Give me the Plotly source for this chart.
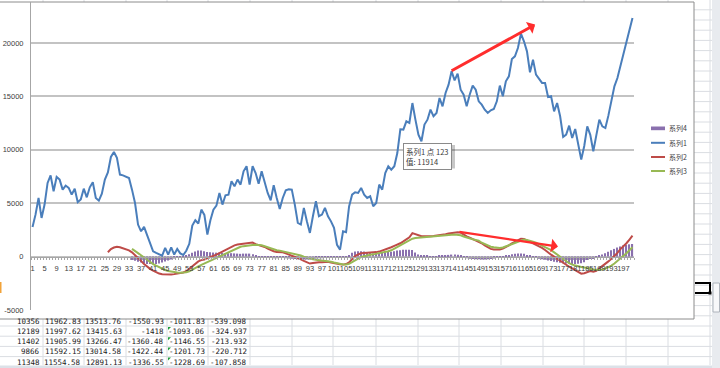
import plotly.graph_objects as go

# ---------------- data ----------------
categories = list(range(1, 201))
series1 = [
    2780, 3930, 5490, 3620, 4870, 6900, 7610, 6120, 7460, 7210,
    6270, 6650, 6430, 5800, 6360, 5090, 5340, 6360, 5550, 6490,
    6960, 5490, 5240, 5900, 7210, 7890, 9330, 9800, 9240, 7680,
    7610, 7520, 7360, 6270, 5020, 3000, 2370, 2780, 2060, 1340,
    500, 340, 190, 90, 810, 190, 870, 190, 720, 300,
    150, 550, 1200, 2900, 3400, 3100, 4400, 3900, 2060, 3400,
    4400, 4770, 5960, 4870, 5740, 5800, 7050, 6580, 7210, 6740,
    7990, 8460, 6740, 8460, 7830, 6830, 7990, 6900, 5960, 5270,
    6680, 5490, 4460, 5490, 6210, 6300, 6270, 4870, 3150, 3000,
    4560, 3310, 2220, 3780, 5180, 3780, 3930, 4560, 3780, 3300,
    2700, 1100, 650, 2370, 2280, 4700, 5800, 6020, 5960, 6430,
    5800, 5490, 5650, 4710, 5020, 6740, 6270, 7830, 8460, 8140,
    8460, 9700, 11914, 11890, 12670, 12510, 14380, 12820, 11420, 10800,
    12360, 12820, 13760, 13140, 13450, 14850, 14070, 15320, 16100, 17350,
    16500, 17130, 15630, 15160, 14070, 15160, 16010, 15630, 14540, 14230,
    13760, 13450, 13700, 13820, 14540, 16010, 15010, 16410, 16880, 18500,
    18750, 19530, 20870, 20160, 19220, 17250, 18440, 17040, 16630, 16260,
    16260, 14940, 15010, 13600, 14380, 13140, 11200, 11420, 12260, 11110,
    11950, 10330, 9080, 10356, 12189, 11402, 9866, 11348, 12820, 12200,
    12040, 13200, 14540, 15940, 16720, 17820, 19060, 20160, 21090, 22340,
]
series2_categories = list(range(26, 201))
series2 = [
    405, 700, 850, 930, 870, 760, 690, 590, 400, 150,
    -150, -400, -700, -950, -1150, -1320, -1480, -1590, -1660, -1690,
    -1700, -1680, -1640, -1600, -1550, -1480, -1370, -1150, -900, -650,
    -450, -330, -280, -150, -50, 50, 180, 330, 480, 620,
    800, 950, 1050, 1130, 1170, 1250, 1290, 1340, 1320, 1170,
    1100, 1040, 900, 750, 600, 500, 420, 400, 400, 300,
    200, 100, -20, -130, -250, -400, -550, -650, -600, -530,
    -520, -530, -500, -480, -560, -630, -680, -720, -750, -700,
    -550, -200, 50, 200, 320, 340, 350, 350, 380, 420,
    470, 560, 700, 800, 880, 1000, 1100, 1250, 1420, 1600,
    1800, 2200, 2100, 1950, 1900, 1900, 1880, 1900, 1920, 1950,
    1980, 2050, 2100, 2170, 2230, 2280, 2280, 2250, 2050, 1900,
    1780, 1650, 1550, 1420, 1250, 1050, 880, 720, 660, 650,
    660, 750, 880, 1050, 1250, 1400, 1550, 1680, 1660, 1530,
    1380, 1250, 1120, 960, 820, 620, 380, 180, 0, -200,
    -400, -600, -780, -950, -1100, -1280, -1450, -1600, -1551, -1418,
    -1360, -1422, -1337, -1100, -900, -700, -450, -200, 50, 350,
    700, 950, 1250, 1600, 1965,
]
series3_categories = list(range(34, 201))
series3 = [
    720, 550, 330, 120, -100, -300, -500, -700, -850, -1000,
    -1130, -1250, -1350, -1420, -1460, -1490, -1510, -1500, -1470, -1380,
    -1250, -1100, -920, -780, -650, -520, -400, -280, -150, 20,
    150, 300, 420, 560, 700, 820, 920, 980, 1030, 1060,
    1090, 1100, 1090, 1060, 970, 870, 760, 680, 600, 560,
    500, 440, 400, 350, 280, 190, 100, 0, -100, -180,
    -240, -300, -340, -350, -350, -400, -480, -550, -620, -690,
    -740, -740, -680, -520, -330, -180, -40, 50, 120, 170,
    210, 260, 300, 350, 420, 500, 590, 750, 900, 1080,
    1200, 1380, 1550, 1680, 1750, 1780, 1800, 1830, 1860, 1880,
    1900, 1920, 1940, 1960, 1980, 2010, 2040, 2060, 2060, 2000,
    1880, 1780, 1680, 1620, 1560, 1500, 1300, 1150, 1020, 930,
    870, 830, 810, 850, 950, 1050, 1200, 1300, 1420, 1520,
    1590, 1560, 1500, 1400, 1300, 1180, 1050, 900, 750, 600,
    400, 190, -50, -250, -450, -620, -750, -850, -930, -980,
    -1012, -1093, -1147, -1202, -1229, -1240, -1200, -1120, -1000, -850,
    -650, -420, -180, 60, 320, 600, 880,
]
series4_categories = list(range(34, 201))
series4 = [
    -320, -400, -480, -550, -620, -700, -700, -700, -700, -650,
    -560, -460, -360, -260, -180, -110, -40, 20, 100, 230,
    350, 480, 560, 560, 500, 430, 400, 380, 370, 370,
    350, 300, 320, 320, 300, 280, 260, 280, 280, 280,
    230, 70, 10, -40, -90, -120, -140, -150, -150, -130,
    -100, -150, -180, -200, -220, -250, -260, -280, -280, -260,
    -220, -180, -160, -150, -120, -80, -80, -80, -60, -30,
    -10, 40, 150, 350, 480, 500, 500, 480, 420, 380,
    300, 300, 320, 350, 400, 420, 450, 500, 560, 600,
    640, 650, 650, 620, 380, 200, 120, 80, 60, 50,
    40, 50, 60, 90, 130, 160, 190, 200, 180, 100,
    -60, -150, -200, -220, -240, -250, -260, -260, -250, -220,
    -180, -120, -60, 20, 100, 160, 220, 270, 300, 300,
    260, 150, 60, -40, -120, -200, -250, -300, -360, -420,
    -480, -530, -580, -620, -650, -680, -700, -700, -680, -620,
    -539, -325, -214, -221, -108, 60, 200, 320, 450, 600,
    720, 850, 950, 1050, 1100, 1150, 1180,
]
assert len(series1) == len(categories)
assert len(series2) == len(series2_categories)
assert len(series3) == len(series3_categories)
assert len(series4) == len(series4_categories)

x_tickvals = list(range(1, 200, 4))
x_ticktext = [str(v) for v in x_tickvals]
y_tickvals = [-5000, 0, 5000, 10000, 15000, 20000]
y_ticktext = ["-5000", "0", "5000", "10000", "15000", "20000"]
y_range = [-5000, 23840]
series_names = {"s1": "系列1", "s2": "系列2", "s3": "系列3", "s4": "系列4"}
tooltip_lines = ["系列1 点 123", "值: 11914"]
table_rows = [
    ["10356", "11962.83", "13513.76", "-1550.93", "-1011.83", "-539.098"],
    ["12189", "11997.62", "13415.63", "-1418", "-1093.06", "-324.937"],
    ["11402", "11905.99", "13266.47", "-1360.48", "-1146.55", "-213.932"],
    ["9866", "11592.15", "13014.58", "-1422.44", "-1201.73", "-220.712"],
    ["11348", "11554.58", "12891.13", "-1336.55", "-1228.69", "-107.858"],
]

# ---------------- style / geometry ----------------
W, H = 720, 368
L, R, T, B = 31, 634, 2, 310

def fx(x):
    return (x - L) / (R - L)

def fy(y):
    return (B - y) / (B - T)

C_BLUE, C_RED, C_GREEN, C_PURPLE = "#4A7EBB", "#BE4B48", "#98B954", "#8A70AE"
AXIS_GRAY = "#A6A6A6"
GRID_GRAY = "#C3C3C3"
SHEET_GRID = "#DADDE2"
TICK_FONT = dict(family="Liberation Sans, Arial, sans-serif", size=7.5, color="#404040")
CJK = "Noto Sans CJK SC, sans-serif"

fig = go.Figure()
fig.add_trace(go.Bar(x=series4_categories, y=series4, name=series_names["s4"],
                     marker=dict(color=C_PURPLE, line=dict(width=0)), width=0.4,
                     showlegend=False))
fig.add_trace(go.Scatter(x=categories, y=series1, mode="lines", name=series_names["s1"],
                         line=dict(color=C_BLUE, width=2), showlegend=False))
fig.add_trace(go.Scatter(x=series2_categories, y=series2, mode="lines", name=series_names["s2"],
                         line=dict(color=C_RED, width=2), showlegend=False))
fig.add_trace(go.Scatter(x=series3_categories, y=series3, mode="lines", name=series_names["s3"],
                         line=dict(color=C_GREEN, width=2), showlegend=False))

shapes = []
annotations = []

# spreadsheet grid behind the chart
col_lines = [43, 84, 126, 167, 208, 250, 292, 333, 376, 418, 459, 501, 543, 584, 626, 668, 710]
for cx in col_lines:
    shapes.append(dict(type="line", xref="paper", yref="paper", layer="below",
                       x0=fx(cx), x1=fx(cx), y0=fy(0), y1=fy(365),
                       line=dict(color=SHEET_GRID, width=1)))
row_h = 10.2
row0 = 326.0
k = -32
while row0 + k * row_h < 366:
    yy = row0 + k * row_h
    if yy > 0:
        shapes.append(dict(type="line", xref="paper", yref="paper", layer="below",
                           x0=fx(0), x1=fx(712), y0=fy(yy), y1=fy(yy),
                           line=dict(color=SHEET_GRID, width=1)))
    k += 1

# chart area
shapes.append(dict(type="rect", xref="paper", yref="paper", layer="below",
                   x0=fx(-2), x1=fx(694), y0=fy(2), y1=fy(319),
                   fillcolor="white", line=dict(color="#8C8C8C", width=1)))
# scrollbar, tab strip, selection marks
shapes.append(dict(type="rect", xref="paper", yref="paper", layer="below",
                   x0=fx(712), x1=fx(721), y0=fy(-1), y1=fy(369),
                   fillcolor="#E8EBEF", line=dict(width=0)))
shapes.append(dict(type="rect", xref="paper", yref="paper", layer="below",
                   x0=fx(713), x1=fx(719.5), y0=fy(283), y1=fy(312),
                   fillcolor="#F7F8FA", line=dict(color="#AEB4BC", width=1)))
shapes.append(dict(type="rect", xref="paper", yref="paper", layer="below",
                   x0=fx(-1), x1=fx(712), y0=fy(365.5), y1=fy(369),
                   fillcolor="#DCE1E8", line=dict(width=0)))
shapes.append(dict(type="path", xref="paper", yref="paper", layer="below",
                   path="M {},{} L {},{} L {},{} L {},{}".format(
                       fx(695), fy(283), fx(710), fy(283), fx(710), fy(293), fx(695), fy(293)),
                   line=dict(color="black", width=2)))
shapes.append(dict(type="rect", xref="paper", yref="paper", layer="below",
                   x0=fx(708.5), x1=fx(711.5), y0=fy(291.5), y1=fy(294.5),
                   fillcolor="black", line=dict(width=0)))
shapes.append(dict(type="rect", xref="paper", yref="paper", layer="below",
                   x0=fx(-1), x1=fx(1.5), y0=fy(282), y1=fy(293),
                   fillcolor="#F2A33A", line=dict(width=0)))
# green error triangles in column 5
for r in range(1, 5):
    ytop = row0 + (r - 1) * row_h + 1
    shapes.append(dict(type="path", xref="paper", yref="paper", layer="below",
                       path="M {},{} L {},{} L {},{} Z".format(
                           fx(168), fy(ytop), fx(171), fy(ytop), fx(168), fy(ytop + 3)),
                       fillcolor="#1E9E3A", line=dict(width=0)))

# table text
col_right = [42, 83, 124.5, 165.5, 207, 248.5]
for r, row in enumerate(table_rows):
    yc = 321.2 + r * row_h
    for c, txt in enumerate(row):
        annotations.append(dict(xref="paper", yref="paper", x=fx(col_right[c]), y=fy(yc),
                                xanchor="right", yanchor="middle", showarrow=False, text=txt,
                                font=dict(family="DejaVu Sans Mono, monospace", size=7.5,
                                          color="#222222")))

# custom legend
legend_rows = [("s4", 128.3), ("s1", 142.8), ("s2", 157.0), ("s3", 171.0)]
legend_colors = {"s1": C_BLUE, "s2": C_RED, "s3": C_GREEN, "s4": C_PURPLE}
for key, yy in legend_rows:
    if key == "s4":
        shapes.append(dict(type="rect", xref="paper", yref="paper", layer="below",
                           x0=fx(651), x1=fx(665), y0=fy(126.5), y1=fy(130.2),
                           fillcolor=C_PURPLE, line=dict(width=0)))
    else:
        shapes.append(dict(type="line", xref="paper", yref="paper", layer="below",
                           x0=fx(651), x1=fx(665), y0=fy(yy), y1=fy(yy),
                           line=dict(color=legend_colors[key], width=2)))
    annotations.append(dict(xref="paper", yref="paper", x=fx(667), y=fy(yy),
                            xanchor="left", yanchor="middle", showarrow=False,
                            text=series_names[key], font=dict(family=CJK, size=7, color="#404040")))

# tooltip (shadow + box)
shapes.append(dict(type="rect", xref="paper", yref="paper", layer="above",
                   x0=fx(405), x1=fx(455), y0=fy(145), y1=fy(168.5),
                   fillcolor="rgba(0,0,0,0.22)", line=dict(width=0)))
annotations.append(dict(xref="paper", yref="paper", x=fx(403), y=fy(143),
                        xanchor="left", yanchor="top", showarrow=False, align="left",
                        text="<br>".join(tooltip_lines), bgcolor="white",
                        bordercolor="#8A8A8A", borderwidth=1, borderpad=2,
                        font=dict(family=CJK, size=7.5, color="#3A3A3A")))

# red arrows (drawn annotations)
annotations.append(dict(x=167.7, y=21723, ax=139.5, ay=17322, xref="x", yref="y",
                        axref="x", ayref="y", showarrow=True, text="",
                        arrowhead=1, arrowsize=0.75, arrowwidth=3, arrowcolor="#FF2D2D"))
annotations.append(dict(x=175.3, y=936, ax=142.1, ay=2341, xref="x", yref="y",
                        axref="x", ayref="y", showarrow=True, text="",
                        arrowhead=1, arrowsize=0.95, arrowwidth=2.4, arrowcolor="#FF2D2D"))

zero_pos = (0 - y_range[0]) / (y_range[1] - y_range[0])

fig.update_layout(
    width=W, height=H,
    margin=dict(l=L, r=W - R, t=T, b=H - B, pad=0, autoexpand=False),
    paper_bgcolor="white", plot_bgcolor="rgba(0,0,0,0)",
    showlegend=False, bargap=0.5,
    shapes=shapes, annotations=annotations,
    xaxis=dict(range=[0.5, 200.5], tickmode="array", tickvals=x_tickvals, ticktext=x_ticktext,
               tickangle=0, tickfont=TICK_FONT, showgrid=False, zeroline=False,
               showline=True, linecolor=AXIS_GRAY, linewidth=1, automargin=False,
               anchor="free", position=zero_pos, ticks="", ticklabelstandoff=4,
               minor=dict(tickmode="linear", tick0=0.5, dtick=1, ticks="outside",
                          ticklen=2, tickwidth=1, tickcolor=AXIS_GRAY, showgrid=False)),
    yaxis=dict(range=y_range, tickmode="array", tickvals=y_tickvals, ticktext=y_ticktext,
               tickfont=TICK_FONT, showgrid=True, gridcolor=GRID_GRAY, gridwidth=1.5,
               zeroline=False, showline=True, linecolor=AXIS_GRAY, linewidth=1,
               automargin=False, ticks="", ticklabelstandoff=5),
)

fig.write_html("out.html", config={"displayModeBar": False},
               post_script="document.body.style.margin='0px';document.body.style.overflow='hidden';")
